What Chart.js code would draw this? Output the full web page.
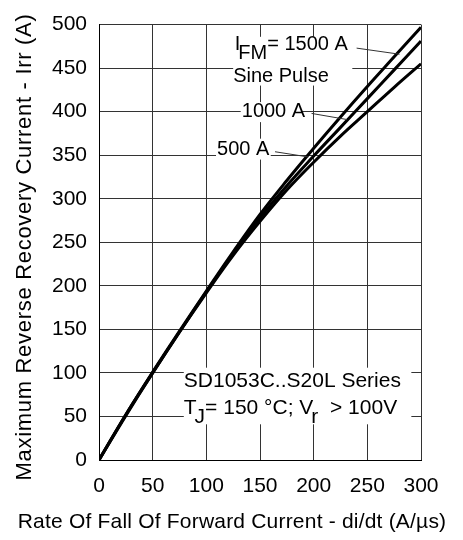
<!DOCTYPE html>
<html>
<head>
<meta charset="utf-8">
<script src="https://cdn.jsdelivr.net/npm/chart.js@4.4.0/dist/chart.umd.min.js"></script>
<style>
  html, body { margin: 0; padding: 0; background: #fff; }
  #wrap { width: 463px; height: 540px; }
</style>
</head>
<body>
<div id="wrap"><canvas id="irrChart" width="463" height="540"></canvas></div>
<script>
// di/dt values (A/us)
const didt = [0, 25, 50, 75, 100, 125, 150, 175, 200, 225, 250, 275, 300];
// Irr (A) for each I_FM
const irr1500 = [0, 52, 101, 148, 194, 239, 282, 321, 358, 394, 429, 463, 497];
const irr1000 = [0, 52, 100, 147, 193, 237, 278, 315, 349, 382, 415, 448, 481];
const irr500 = [0, 51, 100, 147, 192, 235, 274, 310, 342, 372, 400, 428, 455];
const xTicks = [0, 50, 100, 150, 200, 250, 300];
const yTicks = [0, 50, 100, 150, 200, 250, 300, 350, 400, 450, 500];

const FONT = '"Liberation Sans", Arial, sans-serif';

function toPoints(ys) {
  return didt.map((x, i) => ({ x, y: ys[i] }));
}

function curve(ys) {
  return {
    data: toPoints(ys),
    borderColor: '#000',
    borderWidth: 3,
    pointRadius: 0,
    tension: 0.4,
    fill: false,
  };
}

// draw a label made of [text, subscript?] parts; subscripts tuck in a little
function drawParts(ctx, parts, x, y) {
  let cx = x;
  parts.forEach(([txt, sub]) => {
    if (sub) cx -= 2;
    ctx.fillText(txt, cx, y + (sub ? 9 : 0));
    cx += ctx.measureText(txt).width;
  });
}

const labelsPlugin = {
  id: 'labels',
  afterDatasetsDraw(chart) {
    const { ctx, scales: { x, y } } = chart;
    const px = (v) => x.getPixelForValue(v);
    const py = (v) => y.getPixelForValue(v);
    ctx.save();

    // white boxes behind the texts
    ctx.fillStyle = '#fff';
    ctx.fillRect(px(125), py(486), px(236) - px(125), py(430) - py(486));
    ctx.fillRect(px(132), py(411), px(189) - px(132), py(388) - py(411));
    ctx.fillRect(px(109), py(369), px(160) - px(109), py(345) - py(369));
    ctx.fillRect(px(79), py(106), px(291) - px(79), py(41) - py(106));

    // leader lines
    ctx.strokeStyle = '#333';
    ctx.lineWidth = 1;
    const leaders = [
      [240, 473, 280, 466],
      [198, 398, 231, 391],
      [164, 354, 195, 348],
    ];
    leaders.forEach(([x1, y1, x2, y2]) => {
      ctx.beginPath();
      ctx.moveTo(px(x1), py(y1));
      ctx.lineTo(px(x2), py(y2));
      ctx.stroke();
    });

    ctx.fillStyle = '#000';
    ctx.textBaseline = 'middle';
    ctx.font = '20px ' + FONT;
    drawParts(ctx, [['I'], ['FM', true], ['= 1500 A']], px(126.5), py(477));
    ctx.fillText('Sine Pulse', px(125), py(440));
    ctx.fillText('1000 A', px(133), py(400));
    ctx.fillText('500 A', px(110), py(357));

    ctx.font = '21px ' + FONT;
    ctx.fillText('SD1053C..S20L Series', px(79), py(90));
    drawParts(ctx, [['T'], ['J', true], ['= 150 °C; V'], ['r', true], ['  > 100V']], px(79), py(59));
    ctx.restore();

    // axis titles, drawn here to get the wider letter spacing
    ctx.save();
    ctx.fillStyle = '#000';
    ctx.textAlign = 'center';
    ctx.textBaseline = 'middle';
    ctx.letterSpacing = '0.2px';
    ctx.font = '21px ' + FONT;
    ctx.fillText('Rate Of Fall Of Forward Current - di/dt (A/µs)', 232, 522);
    ctx.letterSpacing = '0.7px';
    ctx.font = '22px ' + FONT;
    ctx.translate(25, 247);
    ctx.rotate(-Math.PI / 2);
    ctx.fillText('Maximum Reverse Recovery Current - Irr (A)', 0, 0);
    ctx.restore();
  },
};

const ctx = document.getElementById('irrChart').getContext('2d');
new Chart(ctx, {
  type: 'line',
  data: {
    datasets: [curve(irr1500), curve(irr1000), curve(irr500)],
  },
  options: {
    responsive: false,
    animation: false,
    events: [],
    layout: { padding: { left: 0, top: 15, right: 42, bottom: 0 } },
    plugins: { legend: { display: false }, tooltip: { enabled: false } },
    scales: {
      x: {
        type: 'linear',
        min: 0,
        max: 300,
        afterFit: (s) => { s.height = 80; },
        afterBuildTicks: (s) => { s.ticks = xTicks.map((v) => ({ value: v })); },
        grid: { color: '#333', lineWidth: 1, drawTicks: false },
        border: { color: '#000', width: 1 },
        ticks: { color: '#000', padding: 14, maxRotation: 0, font: { family: FONT, size: 21 } },
      },
      y: {
        min: 0,
        max: 500,
        afterFit: (s) => { s.width = 99; },
        afterBuildTicks: (s) => { s.ticks = yTicks.map((v) => ({ value: v })); },
        grid: { color: '#333', lineWidth: 1, drawTicks: false },
        border: { color: '#000', width: 1 },
        ticks: { color: '#000', padding: 12, font: { family: FONT, size: 21 } },
      },
    },
  },
  plugins: [labelsPlugin],
});
</script>
</body>
</html>
